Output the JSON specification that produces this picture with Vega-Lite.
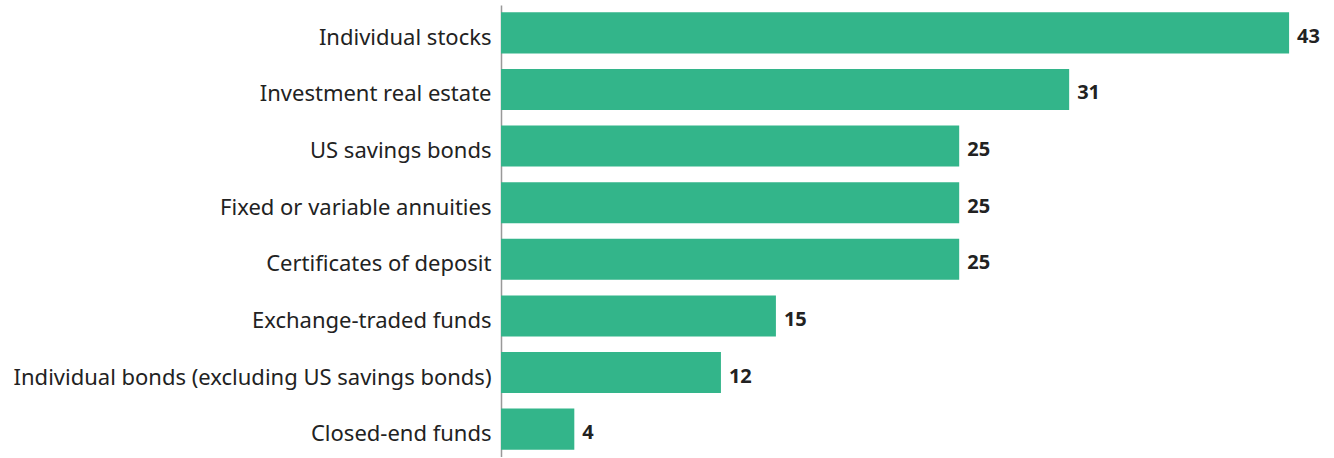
{
  "$schema": "https://vega.github.io/schema/vega-lite/v6.json",
  "width": 833,
  "height": 452,
  "autosize": {"type": "none"},
  "padding": {"left": 501, "top": 5, "right": 0, "bottom": 0},
  "background": "white",
  "config": {"view": {"stroke": null}, "font": "Noto Sans"},
  "data": {"values": [
    {"asset": "Individual stocks", "value": 43},
    {"asset": "Investment real estate", "value": 31},
    {"asset": "US savings bonds", "value": 25},
    {"asset": "Fixed or variable annuities", "value": 25},
    {"asset": "Certificates of deposit", "value": 25},
    {"asset": "Exchange-traded funds", "value": 15},
    {"asset": "Individual bonds (excluding US savings bonds)", "value": 12},
    {"asset": "Closed-end funds", "value": 4}
  ]},
  "encoding": {
    "y": {"field": "asset", "type": "nominal", "sort": null,
      "scale": {"paddingInner": 0.275, "paddingOuter": 0.13},
      "axis": {"title": null, "ticks": false, "labelFontSize": 22, "labelColor": "#222222", "labelPadding": 10, "labelLimit": 600, "labelOffset": 5, "domainColor": "#999999", "domainWidth": 1.5, "labelFont": "Noto Sans"}},
    "x": {"field": "value", "type": "quantitative", "scale": {"domain": [0, 45.45], "nice": false}, "axis": null}
  },
  "layer": [
    {"mark": {"type": "bar", "color": "#33b58a"}},
    {"mark": {"type": "text", "align": "left", "dx": 8, "dy": 4, "fontSize": 20, "fontWeight": "bold", "color": "#222222", "baseline": "middle"},
     "encoding": {"text": {"field": "value", "type": "quantitative"}}}
  ]
}
